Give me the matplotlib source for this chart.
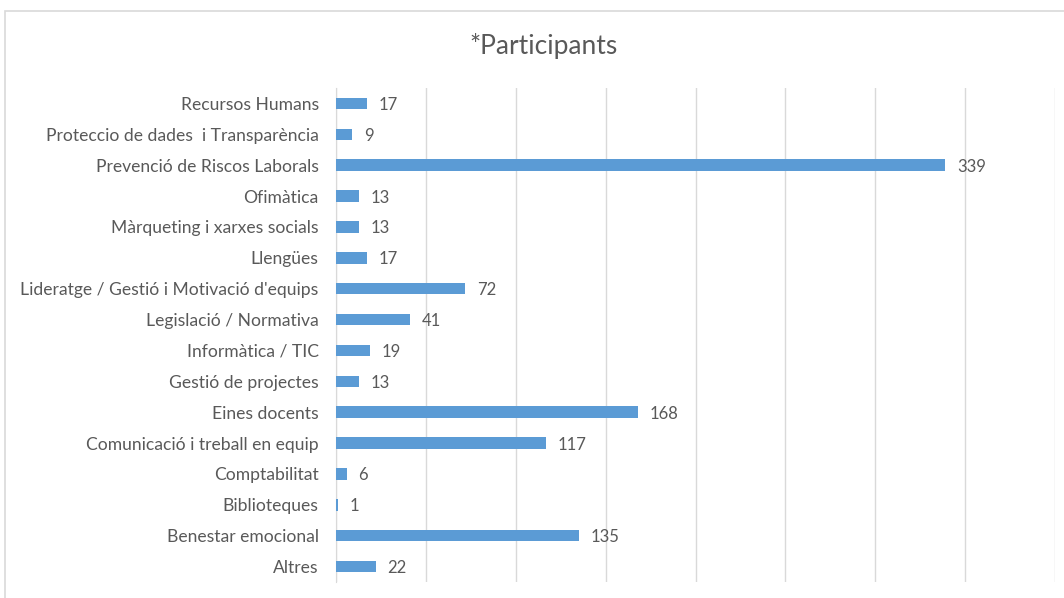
import matplotlib
matplotlib.use("Agg")
import matplotlib.pyplot as plt
from matplotlib.patches import Rectangle

categories = [
    "Recursos Humans",
    "Proteccio de dades  i Transparència",
    "Prevenció de Riscos Laborals",
    "Ofimàtica",
    "Màrqueting i xarxes socials",
    "Llengües",
    "Lideratge / Gestió i Motivació d'equips",
    "Legislació / Normativa",
    "Informàtica / TIC",
    "Gestió de projectes",
    "Eines docents",
    "Comunicació i treball en equip",
    "Comptabilitat",
    "Biblioteques",
    "Benestar emocional",
    "Altres",
]
values = [17, 9, 339, 13, 13, 17, 72, 41, 19, 13, 168, 117, 6, 1, 135, 22]
title = "*Participants"

plt.rcParams['font.family'] = ['Lato', 'DejaVu Sans']
text_color = "#595959"
bar_color = "#5B9BD5"
grid_color = "#D9D9D9"

fig = plt.figure(figsize=(10.64, 5.98), dpi=100)
fig.patches.append(Rectangle((5/1064, -0.1), 1.2, 1 - 11/598 + 0.1,
                             transform=fig.transFigure, fill=False,
                             edgecolor=grid_color, linewidth=1.2))

ax = fig.add_axes([336/1064, 1 - 582/598, (1055-336)/1064, (582-88)/598])

n = len(categories)
ypos = list(range(n))[::-1]
ax.barh(ypos, values, height=0.37, color=bar_color, zorder=3)
for y, v in zip(ypos, values):
    ax.text(v + 6.5, y - 0.05, str(v), va='center', ha='left', fontsize=12,
            color=text_color)

ax.set_xlim(0, 400)
ax.set_ylim(-0.5, n - 0.5)
ax.set_xticks(range(0, 401, 50))
ax.set_xticklabels([])
ax.tick_params(axis='x', length=0)
ax.grid(axis='x', color=grid_color, linewidth=1, zorder=0)
ax.set_yticks(ypos)
ax.set_yticklabels(categories, fontsize=12.6, color=text_color)
ax.tick_params(axis='y', length=0, pad=12.5)
for s in ['top', 'right', 'bottom']:
    ax.spines[s].set_visible(False)
ax.spines['left'].set_color(grid_color)

fig.text(544/1064, 1 - 46/598, title, ha='center', va='center',
         fontsize=19, color=text_color)

fig.savefig("out.png", dpi=100)
